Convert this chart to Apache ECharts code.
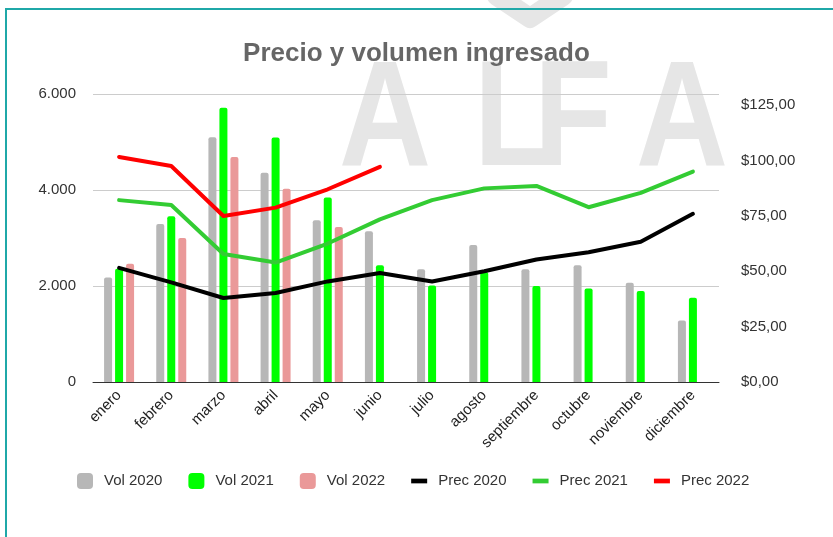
<!DOCTYPE html>
<html>
<head>
<meta charset="utf-8">
<title>Precio y volumen ingresado</title>
<script src="https://cdn.jsdelivr.net/npm/echarts@6/dist/echarts.min.js"></script>
<style>
  html, body { margin: 0; padding: 0; background: #fff; }
  #chart { width: 833px; height: 537px; }
</style>
</head>
<body>
<div id="chart"></div>
<script>
// meses
const months = ['enero', 'febrero', 'marzo', 'abril', 'mayo', 'junio', 'julio',
  'agosto', 'septiembre', 'octubre', 'noviembre', 'diciembre']

// volumen ingresado (eje izquierdo)
const vol2020 = [2175, 3290, 5100, 4360, 3370, 3140, 2350, 2855, 2350, 2430, 2070, 1280]
const vol2021 = [2360, 3455, 5715, 5095, 3845, 2430, 2010, 2290, 2000, 1950, 1895, 1755]
const vol2022 = [2465, 3000, 4690, 4025, 3230, null, null, null, null, null, null, null]

// precio (eje derecho)
const prec2020 = [51.5, 45.0, 37.9, 40.2, 45.4, 49.2, 45.4, 50.0, 55.3, 58.6, 63.3, 75.9]
const prec2021 = [82.1, 79.9, 57.8, 53.9, 62.5, 73.4, 82.1, 87.4, 88.5, 78.9, 85.4, 95.0]
const prec2022 = [101.6, 97.5, 74.9, 78.7, 87.0, 97.1, null, null, null, null, null, null]

const leftTicks = [0, 2000, 4000, 6000]
const rightTicks = [0, 25, 50, 75, 100, 125]

const chart = echarts.init(document.getElementById('chart'))

function fmtMiles(v) {
  return String(v).replace(/\B(?=(\d{3})+(?!\d))/g, '.')
}

function fmtPrecio(v) {
  if (rightTicks.indexOf(v) < 0) return ''
  return '$' + v.toFixed(2).replace('.', ',')
}

const lineIcon = 'path://M0,0H17V5H0Z'

function barSerie(name, data, color) {
  return {
    name,
    type: 'bar',
    data,
    barWidth: 8,
    barGap: '37.5%',
    itemStyle: { color, borderRadius: [2, 2, 0, 0] },
  }
}

function lineSerie(name, data, color) {
  return {
    name,
    type: 'line',
    yAxisIndex: 1,
    data,
    showSymbol: false,
    symbol: 'none',
    lineStyle: { color, width: 4, cap: 'round', join: 'round' },
    itemStyle: { color },
    z: 5,
  }
}

// marca de agua
const watermark = [
  { ch: 'A', x: 339 },
  { ch: 'L', x: 474 },
  { ch: 'F', x: 534 },
  { ch: 'A', x: 636 },
]

const option = {
  backgroundColor: '#fff',
  animation: false,
  title: {
    text: 'Precio y volumen ingresado',
    left: 'center',
    top: 36,
    textStyle: {
      fontFamily: 'Liberation Sans',
      fontSize: 26,
      fontWeight: 'bold',
      color: '#666666',
    },
  },
  graphic: [
    {
      type: 'polyline',
      shape: { points: [[497, -4], [530, 18], [563, -4]] },
      style: { stroke: '#e6e6e6', lineWidth: 20, lineCap: 'round', lineJoin: 'round', fill: 'none' },
      silent: true,
      z: -12,
    },
    {
      type: 'rect',
      shape: { x: 6, y: 9, width: 840, height: 560 },
      style: { fill: 'none', stroke: '#1fa8a8', lineWidth: 2 },
      silent: true,
      z: -5,
    },
    ...watermark.map(w => ({
      type: 'text',
      x: w.x,
      y: 49,
      scaleX: 0.85,
      silent: true,
      z: -10,
      style: {
        text: w.ch,
        font: 'bold 150px "Liberation Sans"',
        fill: '#e6e6e6',
      },
    })),
  ],
  legend: {
    left: 72,
    top: 468,
    itemWidth: 16,
    itemHeight: 16,
    itemGap: 26,
    textStyle: {
      fontFamily: 'Liberation Sans',
      fontSize: 15,
      color: '#333333',
      padding: [0, 0, 0, 6],
    },
    data: [
      { name: 'Vol 2020', icon: 'roundRect' },
      { name: 'Vol 2021', icon: 'roundRect' },
      { name: 'Vol 2022', icon: 'roundRect' },
      { name: 'Prec 2020', icon: lineIcon },
      { name: 'Prec 2021', icon: lineIcon },
      { name: 'Prec 2022', icon: lineIcon },
    ],
  },
  grid: {
    left: 93,
    right: 114,
    top: 94,
    bottom: 155,
  },
  xAxis: {
    type: 'category',
    data: months,
    axisLine: { lineStyle: { color: '#333333', width: 1 } },
    axisTick: { show: false },
    axisLabel: {
      rotate: 45,
      interval: 0,
      margin: 11,
      fontFamily: 'Liberation Sans',
      fontSize: 15,
      color: '#222222',
    },
  },
  yAxis: [
    {
      type: 'value',
      min: leftTicks[0],
      max: leftTicks[leftTicks.length - 1],
      interval: 2000,
      axisLine: { show: false },
      axisTick: { show: false },
      splitLine: { lineStyle: { color: '#cccccc' } },
      axisLabel: {
        margin: 17,
        fontFamily: 'Liberation Sans',
        fontSize: 15,
        color: '#333333',
        formatter: fmtMiles,
      },
    },
    {
      type: 'value',
      min: 0,
      max: 130,
      interval: 25,
      axisLine: { show: false },
      axisTick: { show: false },
      splitLine: { show: false },
      axisLabel: {
        margin: 22,
        fontFamily: 'Liberation Sans',
        fontSize: 15,
        color: '#333333',
        formatter: fmtPrecio,
      },
    },
  ],
  series: [
    barSerie('Vol 2020', vol2020, '#b7b7b7'),
    barSerie('Vol 2021', vol2021, '#00ff00'),
    barSerie('Vol 2022', vol2022, '#ea9999'),
    lineSerie('Prec 2020', prec2020, '#000000'),
    lineSerie('Prec 2021', prec2021, '#33cc33'),
    lineSerie('Prec 2022', prec2022, '#ff0000'),
  ],
}

chart.setOption(option)
</script>
</body>
</html>
